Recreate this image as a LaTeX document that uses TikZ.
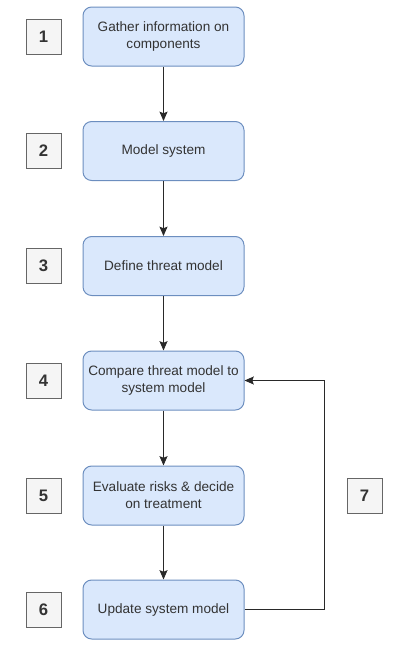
\documentclass[tikz,border=0pt]{standalone}
\usepackage{fontspec}
\setmainfont{Liberation Sans}
\usetikzlibrary{arrows.meta}
\definecolor{taskfill}{HTML}{DAE8FC}
\definecolor{taskline}{HTML}{6C8EBF}
\definecolor{numfill}{HTML}{F5F5F5}
\definecolor{numline}{HTML}{666666}
\definecolor{inkgray}{HTML}{333333}
\begin{document}
\begin{tikzpicture}[
    x=0.75pt, y=-0.75pt,
    task/.style={draw=taskline, fill=taskfill, line width=0.75pt, rounded corners=6.5pt,
      minimum width=120.75pt, minimum height=44.25pt, align=center,
      inner sep=1pt, text=inkgray, font=\fontsize{10.2}{12.8}\selectfont},
    num/.style={draw=numline, fill=numfill, line width=0.75pt, minimum width=26.25pt,
      minimum height=26.25pt, inner sep=0pt, text=inkgray, font=\fontsize{12.5}{14}\selectfont\bfseries},
    flow/.style={draw=inkgray!80!black, line width=0.75pt, -{Stealth[length=7pt, width=6pt, inset=1.2pt]}},
  ]
    \useasboundingbox (0,0) rectangle (406,647);

    % === steps ===
    \node[task] (t1) at (163.5, 36.5) {Gather information on\\components};
    \node[task] (t2) at (163.5, 151) {Model system};
    \node[task] (t3) at (163.5, 266) {Define threat model};
    \node[task] (t4) at (163.5, 380.5) {Compare threat model to\\system model};
    \node[task] (t5) at (163.5, 495.5) {Evaluate risks \& decide\\on treatment};
    \node[task] (t6) at (163.5, 609.5) {Update system model};

    % === step numbers ===
    \node[num] (n1) at (43.5, 36.5) {1};
    \node[num] (n2) at (43.5, 151) {2};
    \node[num] (n3) at (43.5, 266) {3};
    \node[num] (n4) at (43.5, 380.5) {4};
    \node[num] (n5) at (43.5, 495.5) {5};
    \node[num] (n6) at (43.5, 609.5) {6};
    \node[num] (n7) at (364.5, 495.5) {7};

    % === flow ===
    \foreach \a/\b in {t1/t2, t2/t3, t3/t4, t4/t5, t5/t6} {
      \draw[flow] (\a.south) -- (\b.north);
    }
    % loop back
    \coordinate (back) at (324, 609.5);
    \draw[flow] (t6.east) -- (back) |- (t4.east);
\end{tikzpicture}
\end{document}
